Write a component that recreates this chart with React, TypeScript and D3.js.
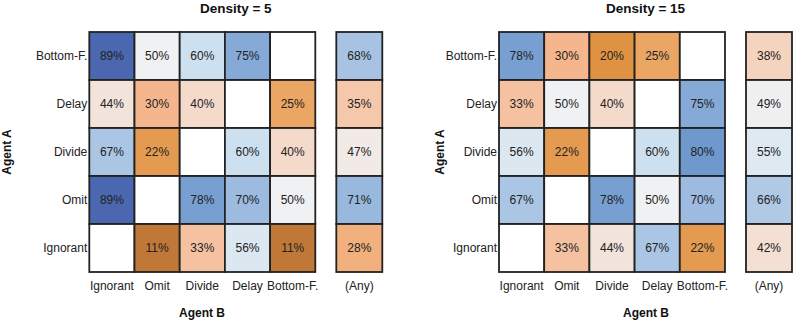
import React from "react";
import * as d3 from "d3";

const rowLabels = ["Bottom-F.", "Delay", "Divide", "Omit", "Ignorant"];
const colLabels = ["Ignorant", "Omit", "Divide", "Delay", "Bottom-F."];

const density5: (number | null)[][] = [
  [89, 50, 60, 75, null],
  [44, 30, 40, null, 25],
  [67, 22, null, 60, 40],
  [89, null, 78, 70, 50],
  [null, 11, 33, 56, 11],
];
const density5Any = [68, 35, 47, 71, 28];

const density15: (number | null)[][] = [
  [78, 30, 20, 25, null],
  [33, 50, 40, null, 75],
  [56, 22, null, 60, 80],
  [67, null, 78, 50, 70],
  [null, 33, 44, 67, 22],
];
const density15Any = [38, 49, 55, 66, 42];

const colorStops = [11, 20, 25, 30, 40, 50, 60, 70, 80, 89];
const colorValues = ["#bf7837", "#df9242", "#eba664", "#f5b68d", "#f4dacb", "#eff1f3", "#cde0ef", "#9dbbe0", "#6f98cd", "#4a67b0"];
const color = d3.scaleLinear<string>().domain(colorStops).range(colorValues).clamp(true);

const FONT = "'Liberation Sans', Arial, Helvetica, sans-serif";

function Panel({ x0, title, data, any, agentAx, agentBx }: any) {
  const gridLeft = x0;
  const cellW = 45.2;
  const x = d3.scaleBand<string>().domain(colLabels).range([gridLeft, gridLeft + cellW * 5]);
  const y = d3.scaleBand<string>().domain(rowLabels).range([32, 272]);
  const anyX = gridLeft + cellW * 5 + 21;
  const anyW = 46;
  const stroke = "#222";
  const sw = 1.8;
  const fs = 12;
  const panelCenter = (gridLeft + anyX + anyW) / 2;
  return (
    <g fontFamily={FONT}>
      <text x={panelCenter} y={13} textAnchor="middle" fontWeight="bold" fontSize={13.5} fill="#111">{title}</text>
      {rowLabels.map((r, i) =>
        colLabels.map((c, j) => {
          const v = data[i][j];
          return (
            <g key={r + c}>
              <rect x={x(c)} y={y(r)} width={x.bandwidth()} height={y.bandwidth()} fill={v == null ? "#ffffff" : color(v)} stroke={stroke} strokeWidth={sw} />
              {v != null && (
                <text x={(x(c) as number) + x.bandwidth() / 2} y={(y(r) as number) + y.bandwidth() / 2} dy="0.35em" textAnchor="middle" fontSize={fs} fill="#222">{v}%</text>
              )}
            </g>
          );
        })
      )}
      {rowLabels.map((r, i) => (
        <g key={"any" + r}>
          <rect x={anyX} y={y(r)} width={anyW} height={y.bandwidth()} fill={color(any[i])} stroke={stroke} strokeWidth={sw} />
          <text x={anyX + anyW / 2} y={(y(r) as number) + y.bandwidth() / 2} dy="0.35em" textAnchor="middle" fontSize={fs} fill="#222">{any[i]}%</text>
        </g>
      ))}
      {rowLabels.map((r) => (
        <text key={"yl" + r} x={gridLeft - 2} y={(y(r) as number) + y.bandwidth() / 2} dy="0.35em" textAnchor="end" fontSize={fs} fill="#222">{r}</text>
      ))}
      {colLabels.map((c) => (
        <text key={"xl" + c} x={(x(c) as number) + x.bandwidth() / 2} y={290} textAnchor="middle" fontSize={fs} fill="#222">{c}</text>
      ))}
      <text x={anyX + anyW / 2} y={290} textAnchor="middle" fontSize={fs} fill="#222">(Any)</text>
      <text x={agentBx} y={317} textAnchor="middle" fontWeight="bold" fontSize={12} fill="#111">Agent B</text>
      <text transform={`translate(${agentAx},152) rotate(-90)`} textAnchor="middle" fontWeight="bold" fontSize={12} fill="#111">Agent A</text>
    </g>
  );
}

export default function App() {
  return (
    <svg width={793} height={321} style={{ position: "absolute", left: 0, top: 0, background: "#fff" }}>
      <rect width={793} height={321} fill="#fff" />
      <Panel x0={89.3} title="Density = 5" data={density5} any={density5Any} agentAx={11} agentBx={202} />
      <Panel x0={499} title="Density = 15" data={density15} any={density15Any} agentAx={444} agentBx={646} />
    </svg>
  );
}
